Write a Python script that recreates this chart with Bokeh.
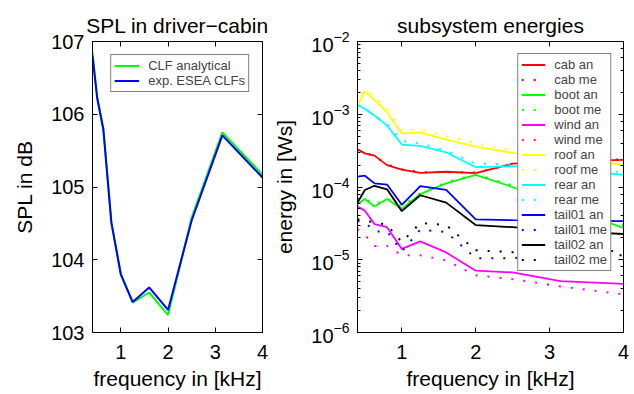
from bokeh.plotting import figure
from bokeh.models import (Legend, LegendItem, LinearAxis, FixedTicker, Range1d,
                          CustomJSTickFormatter, LogTicker)
from bokeh.layouts import row
from bokeh.embed import file_html
from bokeh.resources import INLINE

# ---------------- data ----------------
freq_khz = [0.4, 0.5, 0.63, 0.8, 1.0, 1.25, 1.6, 2.0, 2.5, 3.15, 4.0]

spl_clf_analytical = [106.85, 106.23, 105.80, 104.51, 103.80, 103.41, 103.55, 103.24, 104.58, 105.75, 105.17]
spl_exp_esea_clfs = [106.80, 106.22, 105.79, 104.51, 103.80, 103.42, 103.62, 103.31, 104.54, 105.71, 105.13]

cab_an = [3.3e-4, 2.9e-4, 2.7e-4, 2.0e-4, 1.73e-4, 1.56e-4, 1.62e-4, 1.55e-4, 2.09e-4, 2.25e-4, 2.36e-4]
cab_me = [3.25e-4, 2.95e-4, 2.65e-4, 2.05e-4, 1.75e-4, 1.6e-4, 1.6e-4, 1.58e-4, 2.05e-4, 2.3e-4, 2.4e-4]
boot_an = [5.85e-5, 6.85e-5, 5.4e-5, 6.85e-5, 5.0e-5, 8.0e-5, 1.12e-4, 1.47e-4, 1.0e-4, 5.5e-5, 2.75e-5]
boot_me = [6.1e-5, 7.0e-5, 5.7e-5, 7.0e-5, 5.3e-5, 8.3e-5, 1.16e-4, 1.5e-4, 1.05e-4, 5.8e-5, 3.0e-5]
wind_an = [5.37e-5, 4.73e-5, 3.1e-5, 2.8e-5, 1.41e-5, 1.79e-5, 1.26e-5, 7.07e-6, 6.7e-6, 5.1e-6, 4.65e-6]
wind_me = [2.65e-5, 2.2e-5, 1.55e-5, 1.55e-5, 1.15e-5, 1.15e-5, 9.8e-6, 6.1e-6, 5.4e-6, 4.3e-6, 3.35e-6]
roof_an = [1.35e-3, 2.07e-3, 1.58e-3, 1.07e-3, 5.4e-4, 5.65e-4, 4.49e-4, 3.6e-4, 2.94e-4, 2.4e-4, 2.03e-4]
roof_me = [1.3e-3, 2.2e-3, 1.75e-3, 1.2e-3, 5.9e-4, 6.2e-4, 5.0e-4, 4.0e-4, 3.2e-4, 2.6e-4, 2.1e-4]
rear_an = [1.35e-3, 1.19e-3, 9.6e-4, 7.0e-4, 3.83e-4, 3.67e-4, 3.0e-4, 1.87e-4, 1.93e-4, 1.7e-4, 1.48e-4]
rear_me = [1.3e-3, 1.23e-3, 9.3e-4, 7.4e-4, 4.27e-4, 4.0e-4, 3.16e-4, 2.1e-4, 2.05e-4, 1.8e-4, 1.6e-4]
tail01_an = [1.39e-4, 1.43e-4, 1.12e-4, 1.08e-4, 5.7e-5, 1.03e-4, 9.1e-5, 3.6e-5, 3.5e-5, 3.45e-5, 3.4e-5]
tail01_me = [3.4e-5, 3.3e-5, 2.45e-5, 2.45e-5, 1.3e-5, 2.6e-5, 2.4e-5, 1.05e-5, 1.05e-5, 1.2e-5, 1.35e-5]
tail02_an = [6.1e-5, 9.1e-5, 1.04e-4, 9.3e-5, 4.66e-5, 7.7e-5, 6.1e-5, 3.0e-5, 2.8e-5, 2.5e-5, 2.26e-5]
tail02_me = [3.6e-5, 3.4e-5, 3.3e-5, 3.0e-5, 1.75e-5, 3.2e-5, 3.0e-5, 1.35e-5, 1.27e-5, 1.2e-5, 1.15e-5]

x_ticks = [1, 2, 3, 4]
spl_ticks = [103, 104, 105, 106, 107]

FONT = "Liberation Sans"
BLANK = CustomJSTickFormatter(code="return ''")


def style_axis(ax, labels=True, bottom=False):
    ax.axis_line_color = "black"
    ax.axis_line_width = 1
    ax.major_tick_in = 5
    ax.major_tick_out = 0
    ax.minor_tick_in = 3
    ax.minor_tick_out = 0
    ax.major_tick_line_color = "black"
    ax.minor_tick_line_color = "black"
    ax.major_label_text_font = FONT
    ax.major_label_text_color = "black"
    ax.major_label_text_font_size = "20px"
    ax.axis_label_text_font = FONT
    ax.axis_label_text_font_style = "normal"
    ax.axis_label_text_font_size = "21px"
    ax.axis_label_text_color = "black"
    if labels:
        if bottom:
            ax.major_label_text_line_height = 1.0
            ax.axis_label_text_line_height = 1.0
            ax.major_label_standoff = 12
            ax.axis_label_standoff = 5
        else:
            ax.major_label_standoff = 8
            ax.axis_label_standoff = 12
    else:
        ax.formatter = BLANK
        ax.major_label_standoff = 0
        ax.axis_label_standoff = 0


def style_fig(p):
    p.title.text_font = FONT
    p.title.text_font_size = "21px"
    p.title.text_font_style = "normal"
    p.title.align = "center"
    p.title.text_color = "black"
    p.outline_line_color = "black"
    p.outline_line_width = 1
    p.xgrid.visible = False
    p.ygrid.visible = False
    p.background_fill_color = "white"
    p.border_fill_color = "white"


# ---------------- left: SPL ----------------
p1 = figure(width=270, height=394, title="SPL in driver\u2212cabin",
            x_range=Range1d(0.4, 4.0), y_range=Range1d(103, 107),
            output_backend="svg", toolbar_location=None,
            min_border_left=92, min_border_right=8, min_border_top=41, min_border_bottom=62)
style_fig(p1)
p1.xaxis.ticker = FixedTicker(ticks=x_ticks)
p1.yaxis.ticker = FixedTicker(ticks=spl_ticks)
p1.xaxis.axis_label = "frequency in [kHz]"
p1.yaxis.axis_label = "SPL in dB"
for ax in p1.xaxis:
    style_axis(ax, bottom=True)
    ax.minor_tick_line_color = None
for ax in p1.yaxis:
    style_axis(ax)
    ax.minor_tick_line_color = None
r_ax1 = LinearAxis(ticker=FixedTicker(ticks=spl_ticks))
t_ax1 = LinearAxis(ticker=FixedTicker(ticks=x_ticks))
style_axis(r_ax1, labels=False)
style_axis(t_ax1, labels=False)
p1.add_layout(r_ax1, "right")
p1.add_layout(t_ax1, "above")

g1 = p1.line(freq_khz, spl_clf_analytical, line_color="#00ff00", line_width=2)
b1 = p1.line(freq_khz, spl_exp_esea_clfs, line_color="#0000ff", line_width=2)
leg1 = Legend(items=[LegendItem(label="CLF analytical", renderers=[g1]),
                     LegendItem(label="exp. ESEA CLFs", renderers=[b1])],
              location="top_right", margin=13, padding=3, spacing=0,
              glyph_width=25, glyph_height=15, label_height=15, label_standoff=9,
              label_text_font=FONT, label_text_font_size="13px",
              border_line_color="black", border_line_width=1,
              background_fill_color="white", background_fill_alpha=1)
p1.add_layout(leg1)

# ---------------- right: energies ----------------
p2 = figure(width=364, height=394, title="subsystem energies",
            x_range=Range1d(0.4, 4.0), y_range=Range1d(1e-6, 1e-2), y_axis_type="log",
            output_backend="svg", toolbar_location=None,
            min_border_left=81, min_border_right=11, min_border_top=41, min_border_bottom=62)
style_fig(p2)
p2.xaxis.ticker = FixedTicker(ticks=x_ticks)
p2.xaxis.axis_label = "frequency in [kHz]"
p2.yaxis.axis_label = "energy in [Ws]"
for ax in p2.xaxis:
    style_axis(ax, bottom=True)
    ax.minor_tick_line_color = None
for ax in p2.yaxis:
    style_axis(ax)
r_ax2 = LinearAxis(ticker=LogTicker())
t_ax2 = LinearAxis(ticker=FixedTicker(ticks=x_ticks))
style_axis(r_ax2, labels=False)
style_axis(t_ax2, labels=False)
p2.add_layout(r_ax2, "right")
p2.add_layout(t_ax2, "above")

series = [
    ("cab", "#ff0000", cab_an, cab_me),
    ("boot", "#00ff00", boot_an, boot_me),
    ("wind", "#ff00ff", wind_an, wind_me),
    ("roof", "#ffff00", roof_an, roof_me),
    ("rear", "#00ffff", rear_an, rear_me),
    ("tail01", "#0000ff", tail01_an, tail01_me),
    ("tail02", "#000000", tail02_an, tail02_me),
]
items = []
for name, col, an, me in series:
    ra = p2.line(freq_khz, an, line_color=col, line_width=1.8)
    rm = p2.line(freq_khz, me, line_color=col, line_width=2, line_dash="2 10")
    items.append(LegendItem(label=f"{name} an", renderers=[ra]))
    items.append(LegendItem(label=f"{name} me", renderers=[rm]))

leg2 = Legend(items=items, location="top_right", margin=12, padding=3, spacing=0,
              glyph_width=24, glyph_height=13, label_height=13, label_standoff=9,
              label_text_font=FONT, label_text_font_size="13px",
              border_line_color="black", border_line_width=1,
              background_fill_color="white", background_fill_alpha=1)
p2.add_layout(leg2)

layout = row(p1, p2)
open("out.html", "w").write(file_html(layout, INLINE))
